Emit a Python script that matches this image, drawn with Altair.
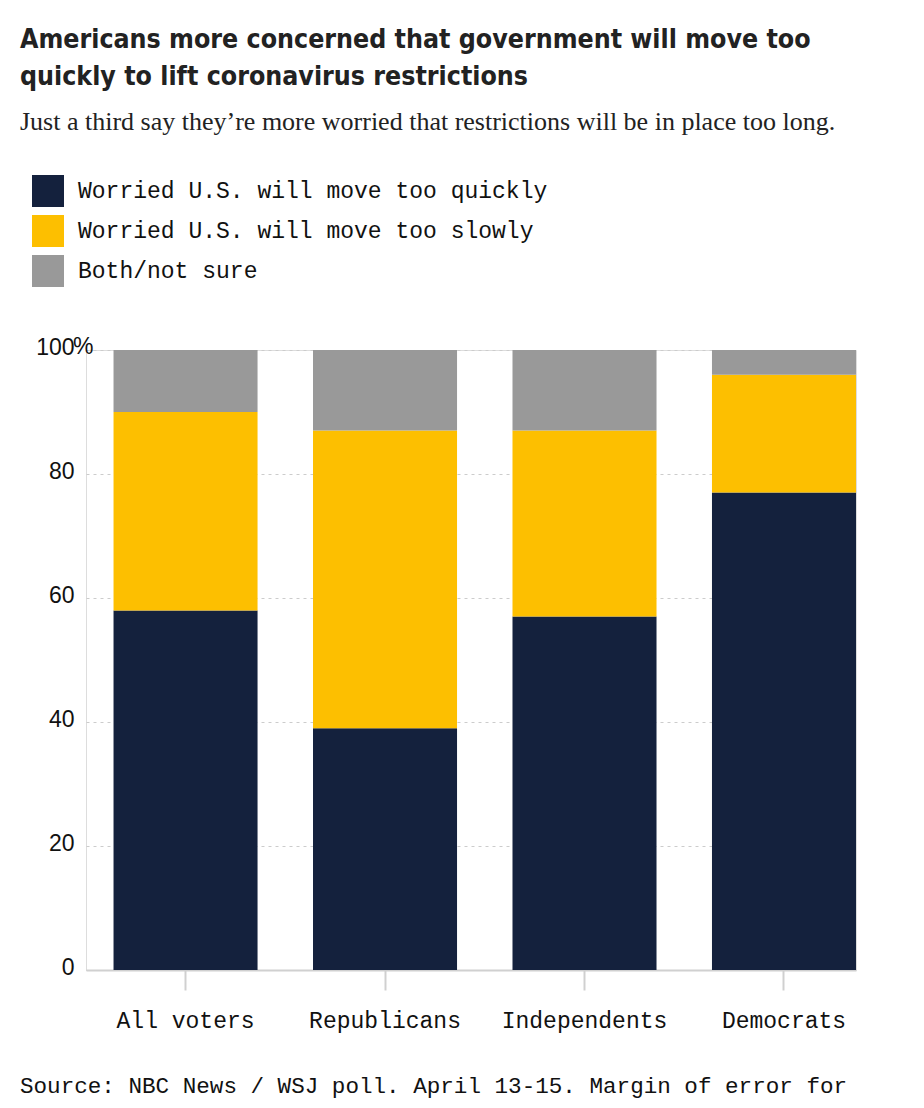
import altair as alt
import pandas as pd

categories = ["All voters", "Republicans", "Independents", "Democrats"]
series = ["Worried U.S. will move too quickly", "Worried U.S. will move too slowly", "Both/not sure"]
quickly = [58, 39, 57, 77]
slowly = [32, 48, 30, 19]
both = [10, 13, 13, 4]
colors = ["#14213D", "#FDBF00", "#999999"]
y_ticks = [0, 20, 40, 60, 80, 100]

title_lines = ["Americans more concerned that government will move too",
               "quickly to lift coronavirus restrictions"]
subtitle = "Just a third say they\u2019re more worried that restrictions will be in place too long."
source = "Source: NBC News / WSJ poll. April 13-15. Margin of error for"

rows = []
for vals, s_i in ((quickly, 0), (slowly, 1), (both, 2)):
    for c, v in zip(categories, vals):
        rows.append({"group": c, "series": series[s_i], "order": s_i, "value": v})
df = pd.DataFrame(rows)

MONO = "Liberation Mono, DejaVu Sans Mono, monospace"
SANS = "Liberation Sans, Roboto, sans-serif"

bars = alt.Chart(df).mark_bar().encode(
    x=alt.X("group:N", sort=categories, title=None,
            scale=alt.Scale(paddingInner=0.278, paddingOuter=0.069, align=1),
            axis=alt.Axis(labelAngle=0, labelFont=MONO, labelFontSize=23, labelColor="#111",
                          labelPadding=19, tickSize=20, tickColor="#d0d0d0", tickWidth=2,
                          domainColor="#d0d0d0", domainWidth=2, grid=False)),
    y=alt.Y("value:Q", stack="zero", title=None,
            scale=alt.Scale(domain=[0, 100], nice=False),
            axis=alt.Axis(values=y_ticks, labelFont=SANS, labelFontSize=23, labelColor="#111",
                          labelPadding=12, labelOffset=-3, ticks=False, domain=False, grid=True,
                          gridDash=[3, 4], gridColor="#cccccc", gridWidth=1)),
    color=alt.Color("series:N", sort=series,
                    scale=alt.Scale(domain=series, range=colors),
                    legend=alt.Legend(title=None, orient="none", legendX=-54, legendY=-175,
                                      symbolType="square", symbolSize=1024, symbolStrokeWidth=0,
                                      labelFont=MONO, labelFontSize=23, labelColor="#111",
                                      labelOffset=14, labelLimit=800, rowPadding=8, padding=0)),
    order=alt.Order("order:Q", sort="ascending"),
)

pct = alt.Chart(pd.DataFrame({"v": [100], "t": ["%"]})).mark_text(
    align="left", baseline="middle", font=SANS, fontSize=23, color="#111", dy=-3
).encode(x=alt.value(-13), y=alt.Y("v:Q"), text="t:N")

src = alt.Chart(pd.DataFrame({"t": [source]})).mark_text(
    align="left", baseline="alphabetic", font=MONO, fontSize=22.6, color="#111"
).encode(x=alt.value(-66), y=alt.value(743), text="t:N")

chart = alt.layer(bars, pct, src).properties(
    width=770, height=620,
    autosize=alt.AutoSizeParams(type="none"),
    padding={"left": 78, "top": 342, "right": 50, "bottom": 130},
    title=alt.TitleParams(
        text=title_lines, subtitle=subtitle, anchor="start",
        font="DejaVu Sans Condensed, DejaVu Sans, sans-serif", fontSize=26.5,
        fontWeight="bold", color="#222", lineHeight=37,
        subtitleFont="Liberation Serif, serif", subtitleFontSize=26, subtitleColor="#222",
        subtitlePadding=19, offset=40),
).configure_view(stroke=None).configure(background="white")

chart.save("out.html", embed_options={"renderer": "svg", "actions": False})
